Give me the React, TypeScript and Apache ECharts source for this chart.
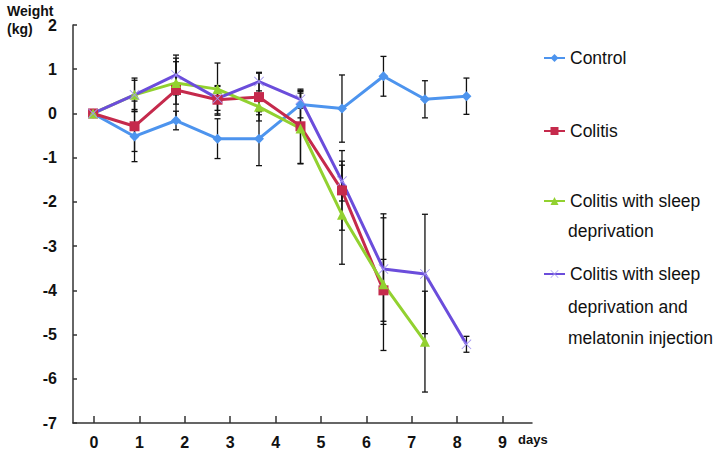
import React, { useEffect, useRef } from "react";
import * as echarts from "echarts";

const days = [0, 1, 2, 3, 4, 5, 6, 7, 8, 9];
const tickValues = [0, 1, 2, 3, 4, 5, 6, 7, 8, 9];

const controlName = "Control";
const colitisName = "Colitis";
const sleepName = "Colitis with sleep deprivation";
const melatoninName = "Colitis with sleep deprivation and melatonin injection";

const control = [0, -0.52, -0.16, -0.57, -0.57, 0.2, 0.11, 0.84, 0.32, 0.39];
const controlErr = [0, 0.57, 0.21, 0.45, 0.61, 0.3, 0.76, 0.45, 0.42, 0.41];

const colitis = [0, -0.29, 0.53, 0.31, 0.37, -0.29, -1.74, -4.0];
const colitisErr = [0, 0.57, 0.72, 0.32, 0.54, 0.84, 0.9, 0.7];

const sleep = [0, 0.42, 0.69, 0.55, 0.15, -0.34, -2.29, -3.86, -5.16];
const sleepErr = [0, 0.38, 0.48, 0.59, 0.18, 0.8, 1.12, 1.5, 1.14];

const melatonin = [0, 0.42, 0.87, 0.34, 0.72, 0.32, -1.53, -3.52, -3.63, -5.22];
const melatoninErr = [0, 0.33, 0.45, 0.27, 0.21, 0.2, 0.45, 1.25, 1.35, 0.18];

const FONT = "'Liberation Sans', Arial, Helvetica, sans-serif";
const X_SYMBOL =
  "path://M0,0.6L0.6,0L5,4.4L9.4,0L10,0.6L5.6,5L10,9.4L9.4,10L5,5.6L0.6,10L0,9.4L4.4,5Z";

const toPairs = (vals: number[]) => vals.map((v, i) => [days[i], v]);
const toErr = (vals: number[], errs: number[]) =>
  vals
    .map((v, i) => [days[i], v - errs[i], v + errs[i]])
    .filter((_, i) => errs[i] > 0);

export default function App() {
  const ref = useRef<HTMLDivElement>(null);
  useEffect(() => {
    if (!ref.current) return;
    const chart = echarts.init(ref.current, undefined, { renderer: "svg" });
    const errData = [
      ...toErr(control, controlErr),
      ...toErr(colitis, colitisErr),
      ...toErr(sleep, sleepErr),
      ...toErr(melatonin, melatoninErr),
    ];
    const legendBase = (name: string, top: number, label: string) => ({
      data: [name],
      left: 543,
      top,
      padding: 0,
      itemWidth: 21,
      itemHeight: 10,
      selectedMode: false,
      lineStyle: { width: 2 },
      formatter: () => label,
      textStyle: { fontSize: 17.5, fontFamily: FONT, color: "#111" },
    });
    const lineSeries = (
      name: string,
      vals: number[],
      color: string,
      symbol: string,
      symbolSize: number,
      symbolColor?: string
    ) => ({
      type: "line",
      name,
      xAxisIndex: 0,
      data: toPairs(vals),
      symbol,
      symbolSize,
      showSymbol: true,
      lineStyle: { color, width: 3 },
      itemStyle: { color: symbolColor || color },
      z: 3,
    });
    chart.setOption({
      animation: false,
      grid: { left: 73, top: 25, width: 459, height: 398, containLabel: false },
      legend: [
        legendBase(controlName, 49, "Control"),
        legendBase(colitisName, 122, "Colitis"),
        legendBase(sleepName, 192, "Colitis with sleep"),
        legendBase(melatoninName, 265, "Colitis with sleep"),
      ],
      xAxis: [
        { type: "value", min: -0.483, max: 10.58, show: false, position: "top" },
        {
          type: "value",
          min: -0.464,
          max: 9.65,
          position: "bottom",
          axisLine: { onZero: false, lineStyle: { color: "#333", width: 1.5 } },
          axisTick: {
            inside: true,
            length: 7,
            customValues: tickValues,
            lineStyle: { color: "#333", width: 1.5 },
          },
          axisLabel: {
            customValues: tickValues,
            margin: 11,
            fontSize: 16,
            fontWeight: "bold",
            fontFamily: FONT,
            color: "#111",
          },
          splitLine: { show: false },
        },
      ],
      yAxis: {
        type: "value",
        min: -7,
        max: 2,
        interval: 1,
        axisLine: { show: true, onZero: false, lineStyle: { color: "#333", width: 1.5 } },
        axisTick: { show: true, inside: true, length: 4, lineStyle: { color: "#333", width: 1.5 } },
        axisLabel: {
          margin: 16,
          fontSize: 16,
          fontWeight: "bold",
          fontFamily: FONT,
          color: "#111",
        },
        splitLine: { show: false },
      },
      graphic: [
        {
          type: "text",
          left: 7,
          top: 2,
          style: {
            text: "Weight\n(kg)",
            font: `bold 14px ${FONT}`,
            lineHeight: 18,
            fill: "#111",
          },
        },
        {
          type: "text",
          left: 518,
          top: 433,
          style: { text: "days", font: `bold 13px ${FONT}`, fill: "#111" },
        },
        {
          type: "text",
          left: 568,
          top: 222,
          style: { text: "deprivation", font: `17.5px ${FONT}`, fill: "#111" },
        },
        {
          type: "text",
          left: 568,
          top: 298,
          style: { text: "deprivation and", font: `17.5px ${FONT}`, fill: "#111" },
        },
        {
          type: "text",
          left: 568,
          top: 329,
          style: { text: "melatonin injection", font: `17.5px ${FONT}`, fill: "#111" },
        },
      ],
      series: [
        {
          type: "custom",
          name: "error",
          xAxisIndex: 0,
          data: errData,
          encode: { x: 0, y: [1, 2] },
          z: 1,
          renderItem: (_params: any, api: any) => {
            const x = api.value(0);
            const top = api.coord([x, api.value(2)]);
            const bot = api.coord([x, api.value(1)]);
            const w = 3;
            const style = { stroke: "#111", lineWidth: 1.3 };
            return {
              type: "group",
              children: [
                { type: "line", shape: { x1: top[0], y1: top[1], x2: bot[0], y2: bot[1] }, style },
                { type: "line", shape: { x1: top[0] - w, y1: top[1], x2: top[0] + w, y2: top[1] }, style },
                { type: "line", shape: { x1: bot[0] - w, y1: bot[1], x2: bot[0] + w, y2: bot[1] }, style },
              ],
            };
          },
        },
        lineSeries(controlName, control, "#4d94ee", "diamond", 10),
        lineSeries(colitisName, colitis, "#c52a4c", "rect", 10),
        lineSeries(sleepName, sleep, "#92d130", "triangle", 10),
        lineSeries(melatoninName, melatonin, "#6b4ddb", X_SYMBOL, 10, "#a497f0"),
      ],
    });
    return () => chart.dispose();
  }, []);
  return <div ref={ref} style={{ width: 720, height: 454, position: "absolute", left: 0, top: 0 }} />;
}
